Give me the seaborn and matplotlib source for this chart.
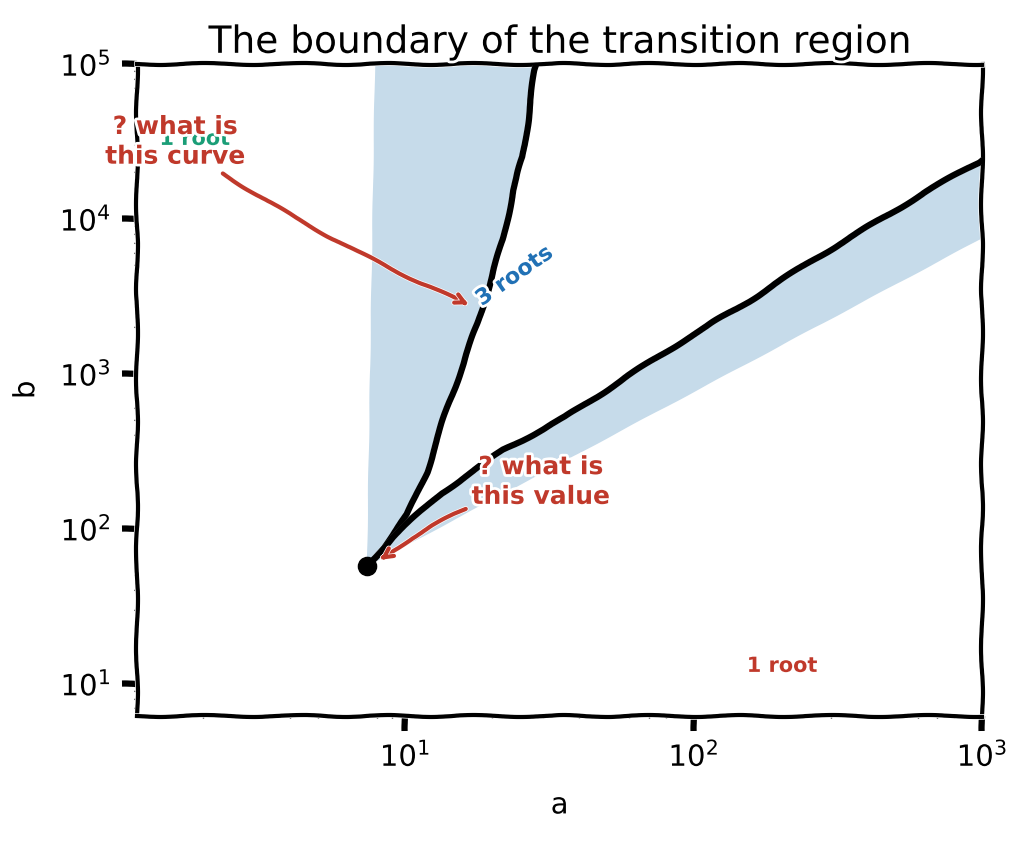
import numpy as np
import pandas as pd
import matplotlib.pyplot as plt
import seaborn as sns

# upper branch of the boundary (a, b)
upper_a = [7.38, 8.4, 10.2, 11.9, 13.5, 15.5, 17.9, 19.4, 21.9, 23.7, 25.6, 28.2, 28.6]
upper_b = [57, 75.5, 123, 232, 486, 1020, 2130, 3520, 7380, 15400, 25100, 91000, 100000]

# lower branch of the boundary
lower_a = [7.38, 9.09, 13.4, 21.9, 35.9, 58.3, 95.7, 156, 255, 416, 640, 977, 1000]
lower_b = [57, 88.9, 170, 321, 524, 946, 1710, 2950, 5330, 9200, 15000, 23300, 24200]

# outer edges of the shaded bands
left_edge_a = [7.87, 7.38]
left_edge_b = [100000, 57]
low_edge_a = [1000, 7.38]
low_edge_b = [7480, 57]

cusp_a = [7.38]
cusp_b = [57]

sns.set_style("white")
plt.xkcd()
plt.rcParams['font.family'] = ['DejaVu Sans']
plt.rcParams.update({
    'text.color': 'black',
    'axes.labelcolor': 'black',
    'xtick.color': 'black',
    'ytick.color': 'black',
    'axes.edgecolor': 'black',
    'axes.linewidth': 3,
})

fig = plt.figure(figsize=(10.24, 8.41), dpi=100)
ax = fig.add_axes([0.134, 0.149, 0.825, 0.775])

shade = '#c6dbea'
for xs, ys in [(upper_a + left_edge_a, upper_b + left_edge_b),
               (lower_a + low_edge_a, lower_b + low_edge_b)]:
    patches = ax.fill(xs, ys, color=shade, lw=0, zorder=1)
    for p in patches:
        p.set_sketch_params(0.3, 100, 2)

up = pd.DataFrame({"a": upper_a, "b": upper_b})
lo = pd.DataFrame({"a": lower_a, "b": lower_b})
sns.lineplot(data=up, x="a", y="b", sort=False, estimator=None, color='black', lw=4.5, ax=ax, zorder=3)
sns.lineplot(data=lo, x="a", y="b", sort=False, estimator=None, color='black', lw=4.5, ax=ax, zorder=3)
sns.scatterplot(x=cusp_a, y=cusp_b, color='black', s=170, ax=ax, zorder=5, edgecolor='black')

ax.set_xscale('log')
ax.set_yscale('log')
ax.set_xlim(1.18, 1000)
ax.set_ylim(6.2, 1e5)

red = '#c0392b'
ax.text(1.87, 32800, "1 root", color='#1a9e77', fontsize=15, fontweight='bold',
        ha='center', va='center', zorder=2)
ax.annotate("? what is\nthis curve", xy=(17.1, 2740), xytext=(1.6, 31400),
            color=red, fontsize=18, fontweight='bold', ha='center', va='center',
            linespacing=1.3,
            arrowprops=dict(arrowstyle='->', color=red, lw=3,
                            connectionstyle='arc3,rad=0.05'), zorder=6)
ax.text(24.0, 4270, "3 roots", color='#2171b5', fontsize=16, fontweight='bold',
        ha='center', va='center', rotation=35, zorder=6)
ax.annotate("? what is\nthis value", xy=(8.0, 60.5), xytext=(29.6, 200),
            color=red, fontsize=18, fontweight='bold', ha='center', va='center',
            linespacing=1.3,
            arrowprops=dict(arrowstyle='->', color=red, lw=3,
                            connectionstyle='arc3,rad=0.1'), zorder=6)
ax.text(203, 13.0, "1 root", color=red, fontsize=15, fontweight='bold',
        ha='center', va='center', zorder=6)

ax.set_title("The boundary of the transition region", fontsize=27, pad=8)
ax.set_xlabel("a", fontsize=21, labelpad=14)
ax.set_ylabel("b", fontsize=21, labelpad=14)
ax.tick_params(which='major', bottom=True, left=True, length=11, width=4.5, pad=8, labelsize=21)
ax.tick_params(which='minor', bottom=True, left=True, length=2, width=1)

fig.savefig("out.png", dpi=100)
